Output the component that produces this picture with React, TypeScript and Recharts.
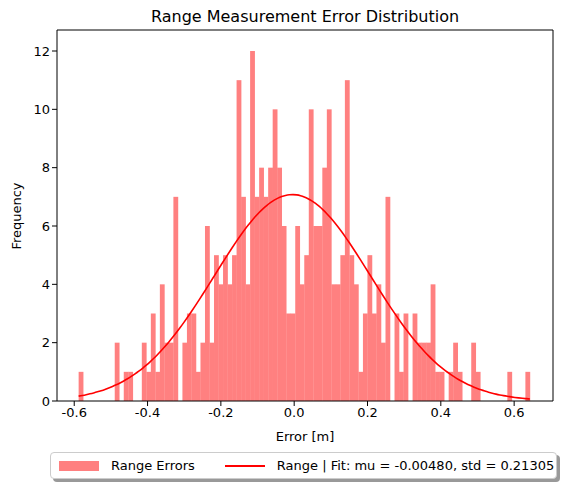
import React from "react";
import { ComposedChart, Bar, Line, XAxis, YAxis } from "recharts";

// histogram of range errors, 100 bins
const binStart = -0.588;
const binEnd = 0.643;
const counts = [
  1, 0, 0, 0, 0, 0, 0, 0, 2, 0,
  1, 1, 0, 0, 2, 1, 3, 1, 4, 2,
  2, 7, 0, 2, 3, 3, 1, 2, 6, 2,
  5, 4, 5, 4, 5, 11, 7, 4, 12, 7,
  8, 7, 8, 10, 8, 6, 3, 3, 6, 4,
  5, 10, 6, 6, 8, 10, 4, 4, 5, 11,
  5, 4, 1, 3, 5, 3, 4, 2, 7, 0,
  3, 1, 3, 0, 3, 2, 2, 2, 4, 1,
  1, 0, 1, 2, 1, 0, 0, 2, 1, 0,
  0, 0, 0, 0, 0, 1, 0, 0, 0, 1,
];
const fitMu = -0.0048;
const fitStd = 0.21305;
const xTicks = [-0.6, -0.4, -0.2, 0.0, 0.2, 0.4, 0.6];
const yTicks = [0, 2, 4, 6, 8, 10, 12];

const xDomain = [-0.647, 0.706];
const plotW = 496;

const binW = (binEnd - binStart) / counts.length;
const bins = counts.map((c, i) => ({ x: binStart + binW * (i + 0.5), count: c }));
const total = counts.reduce((a, b) => a + b, 0);
const fit = Array.from({ length: 121 }, (_, i) => {
  const x = binStart + ((binEnd - binStart) * i) / 120;
  const z = (x - fitMu) / fitStd;
  return { x, y: (total * binW * Math.exp(-0.5 * z * z)) / (fitStd * Math.sqrt(2 * Math.PI)) };
});

const binPx = (binW * plotW) / (xDomain[1] - xDomain[0]);

const HistBar = (props: any) => {
  const { x, y, width, height } = props;
  if (!height) return null;
  const cx = x + width / 2;
  return <rect x={cx - binPx / 2} y={y} width={binPx + 0.3} height={height} fill="#ff8080" />;
};

const font = "DejaVu Sans, sans-serif";
const tick = { fill: "#000", fontSize: 13, fontFamily: font };

export default function App() {
  return (
    <div style={{ position: "absolute", left: 0, top: 0, width: 565, height: 490, background: "#fff", fontFamily: font }}>
      <div style={{ position: "absolute", top: 7, left: 57, width: 496, textAlign: "center", fontSize: 16 }}>
        Range Measurement Error Distribution
      </div>
      <ComposedChart width={565} height={490} data={bins} margin={{ top: 30, right: 12, bottom: 59, left: 17 }}>
        <XAxis
          dataKey="x"
          type="number"
          domain={xDomain}
          ticks={xTicks}
          tickFormatter={(v) => v.toFixed(1)}
          tick={tick}
          tickSize={5}
          stroke="#000"
          height={30}
          allowDataOverflow
        />
        <YAxis
          type="number"
          domain={[0, 12.72]}
          ticks={yTicks}
          tick={tick}
          tickSize={5}
          stroke="#000"
          width={40}
          allowDataOverflow
        />
        <Bar dataKey="count" fill="#ff8080" shape={HistBar} isAnimationActive={false} />
        <Line data={fit} dataKey="y" type="monotone" stroke="#ff0000" strokeWidth={1.6} dot={false} isAnimationActive={false} />
        <line x1={57} y1={30} x2={553} y2={30} stroke="#000" />
        <line x1={553} y1={30} x2={553} y2={401} stroke="#000" />
      </ComposedChart>
      <div style={{ position: "absolute", top: 429, left: 57, width: 496, textAlign: "center", fontSize: 13 }}>Error [m]</div>
      <div style={{ position: "absolute", left: 9, top: 256, fontSize: 13, transform: "rotate(-90deg)", transformOrigin: "left top", width: 80, textAlign: "center" }}>Frequency</div>
      <div
        style={{
          position: "absolute",
          left: 50,
          top: 452,
          width: 507,
          height: 27,
          border: "1px solid #ccc",
          borderRadius: 4,
          boxShadow: "3px 3px 0 #999",
          background: "#fff",
          display: "flex",
          alignItems: "center",
          fontSize: 13,
          boxSizing: "border-box",
        }}
      >
        <span style={{ display: "inline-block", width: 40, height: 10, background: "#ff8080", marginLeft: 8 }} />
        <span style={{ marginLeft: 12 }}>Range Errors</span>
        <span style={{ display: "inline-block", width: 40, height: 2, background: "#ff0000", marginLeft: 30 }} />
        <span style={{ marginLeft: 12 }}>Range | Fit: mu = -0.00480, std = 0.21305</span>
      </div>
    </div>
  );
}
